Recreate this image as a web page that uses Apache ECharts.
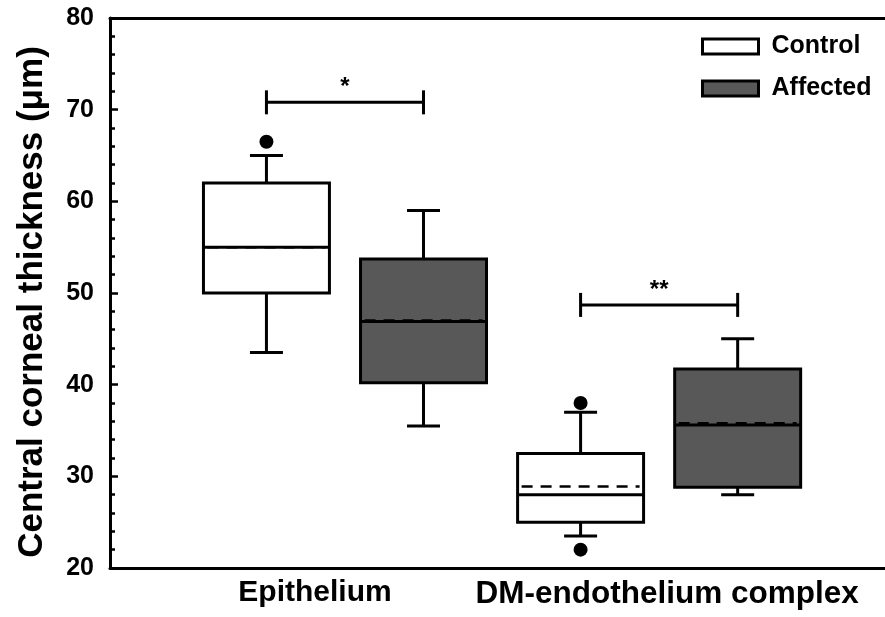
<!DOCTYPE html>
<html>
<head>
<meta charset="utf-8">
<script src="https://cdn.jsdelivr.net/npm/echarts@6/dist/echarts.min.js"></script>
<style>html,body{margin:0;padding:0;background:#fff;}#c{width:885px;height:617px;}</style>
</head>
<body>
<div id="c"></div>
<script>
// ---- data ----
const categories = ['Epithelium', 'DM-endothelium complex'];
const categoryPos = [1, 2];
const yTicks = [20, 30, 40, 50, 60, 70, 80];
// [min whisker, Q1, median, Q3, max whisker]
const controlBox = [[43.5, 50, 55, 62, 65], [23.5, 25, 28, 32.5, 37]];
const affectedBox = [[35.5, 40.2, 46.9, 53.7, 59], [28, 28.8, 35.6, 41.7, 45]];
const controlMean = [55.0, 28.9];
const affectedMean = [47.0, 35.8];
const controlOutliers = [[66.5], [38, 22]];
const affectedOutliers = [[], []];
const sigLevel = [70.8, 48.7];
const sigLabel = ['*', '**'];

// ---- layout constants ----
const FONT = '"Liberation Sans", Arial, sans-serif';
const groupOffset = 0.25;
const boxW = 0.401;
const capW = 0.105;
const LW = 3;

function buildBoxData(boxes, means, off) {
  return boxes.map((b, i) => [categoryPos[i] + off, b[0], b[1], b[2], b[3], b[4], means[i]]);
}
function buildOutliers(outs, off) {
  const res = [];
  outs.forEach((arr, i) => arr.forEach(v => res.push([categoryPos[i] + off, v])));
  return res;
}

function makeRender(fill) {
  return function (params, api) {
    const x = api.value(0);
    const X = v => api.coord([v, 20])[0];
    const Y = v => api.coord([x, v])[1];
    const cx = X(x), l = X(x - boxW / 2), r = X(x + boxW / 2);
    const cl = X(x - capW / 2), cr = X(x + capW / 2);
    const yMin = Y(api.value(1)), yQ1 = Y(api.value(2)), yMed = Y(api.value(3));
    const yQ3 = Y(api.value(4)), yMax = Y(api.value(5)), yMean = Y(api.value(6));
    const st = { stroke: '#000', lineWidth: LW, fill: null };
    return {
      type: 'group',
      children: [
        { type: 'line', shape: { x1: cx, y1: yQ1, x2: cx, y2: yMin }, style: st },
        { type: 'line', shape: { x1: cx, y1: yQ3, x2: cx, y2: yMax }, style: st },
        { type: 'line', shape: { x1: cl, y1: yMin, x2: cr, y2: yMin }, style: st },
        { type: 'line', shape: { x1: cl, y1: yMax, x2: cr, y2: yMax }, style: st },
        { type: 'rect', shape: { x: l, y: yQ3, width: r - l, height: yQ1 - yQ3 },
          style: { fill: fill, stroke: '#000', lineWidth: LW } },
        { type: 'line', shape: { x1: l, y1: yMed, x2: r, y2: yMed }, style: st },
        { type: 'line', shape: { x1: l + 4, y1: yMean, x2: r - 4, y2: yMean },
          style: { stroke: '#000', lineWidth: 2.5, lineDash: [11, 8], fill: null } }
      ]
    };
  };
}

function renderSig(params, api) {
  const i = params.dataIndex;
  const x = api.value(0);
  const y = api.coord([x, api.value(1)])[1];
  const x1 = api.coord([x - groupOffset, 20])[0];
  const x2 = api.coord([x + groupOffset, 20])[0];
  const st = { stroke: '#000', lineWidth: LW, fill: null };
  return {
    type: 'group',
    children: [
      { type: 'line', shape: { x1: x1, y1: y, x2: x2, y2: y }, style: st },
      { type: 'line', shape: { x1: x1, y1: y - 12, x2: x1, y2: y + 12 }, style: st },
      { type: 'line', shape: { x1: x2, y1: y - 12, x2: x2, y2: y + 12 }, style: st },
      { type: 'text', style: { x: (x1 + x2) / 2, y: y - 3, text: sigLabel[i],
          fill: '#000', font: 'bold 24px ' + FONT, textAlign: 'center', textVerticalAlign: 'bottom' } }
    ]
  };
}

const chart = echarts.init(document.getElementById('c'), null, { renderer: 'canvas' });
const xMin = 0.252, xMax = 2.719;
const option = {
  animation: false,
  backgroundColor: '#fff',
  grid: { left: 110, right: 0, top: 18, bottom: 49, containLabel: false },
  legend: {
    orient: 'vertical', left: 696, top: 29,
    itemWidth: 56, itemHeight: 15, itemGap: 17,
    textStyle: { fontFamily: FONT, fontWeight: 'bold', fontSize: 25, color: '#000', lineHeight: 17, padding: [0, 0, 0, 8] },
    data: [
      { name: 'Control', icon: 'rect', itemStyle: { color: '#fff', borderColor: '#000', borderWidth: 3 } },
      { name: 'Affected', icon: 'rect', itemStyle: { color: '#585858', borderColor: '#000', borderWidth: 3 } }
    ]
  },
  xAxis: [
    {
      type: 'value', min: xMin, max: xMax, position: 'bottom',
      axisLine: { show: true, onZero: false, lineStyle: { color: '#000', width: LW } },
      axisTick: { show: false }, splitLine: { show: false },
      axisLabel: {
        customValues: categoryPos, margin: 10,
        formatter: function (v) {
          const i = categoryPos.indexOf(v);
          if (i < 0) return '';
          return i === 0 ? '{a|' + categories[0] + '}' : '{b|' + categories[1] + '}';
        },
        rich: {
          a: { fontFamily: FONT, fontWeight: 'bold', fontSize: 30, color: '#000', padding: [0, 60, 0, 0] },
          b: { fontFamily: FONT, fontWeight: 'bold', fontSize: 31.5, color: '#000', padding: [0, 0, 0, 16] }
        }
      }
    },
    {
      type: 'value', min: xMin, max: xMax, position: 'top',
      axisLine: { show: true, onZero: false, lineStyle: { color: '#000', width: LW } },
      axisTick: { show: false }, axisLabel: { show: false }, splitLine: { show: false }
    }
  ],
  yAxis: {
    type: 'value', min: 20, max: 80, interval: 10,
    name: 'Central corneal thickness (μm)', nameLocation: 'middle', nameGap: 60,
    nameTextStyle: { fontFamily: FONT, fontWeight: 'bold', fontSize: 35, color: '#000', padding: [0, 18, 0, 0] },
    axisLine: { show: true, lineStyle: { color: '#000', width: LW } },
    axisTick: { show: true, inside: true, length: 8, lineStyle: { color: '#000', width: 2.5 } },
    minorTick: { show: true, splitNumber: 5, length: 5, lineStyle: { color: '#000', width: 2.5 } },
    splitLine: { show: false },
    axisLabel: {
      margin: 16, fontFamily: FONT, fontWeight: 'bold', fontSize: 25, color: '#000',
      formatter: v => (yTicks.indexOf(v) >= 0 ? String(v) : '')
    }
  },
  series: [
    { name: 'Control', type: 'custom', renderItem: makeRender('#fff'),
      itemStyle: { color: '#fff', borderColor: '#000' },
      data: buildBoxData(controlBox, controlMean, -groupOffset), z: 2 },
    { name: 'Affected', type: 'custom', renderItem: makeRender('#585858'),
      itemStyle: { color: '#585858', borderColor: '#000' },
      data: buildBoxData(affectedBox, affectedMean, groupOffset), z: 2 },
    { name: 'Control outliers', type: 'scatter', symbol: 'circle', symbolSize: 14,
      itemStyle: { color: '#000', opacity: 1 }, data: buildOutliers(controlOutliers, -groupOffset), z: 3 },
    { name: 'Affected outliers', type: 'scatter', symbol: 'circle', symbolSize: 14,
      itemStyle: { color: '#000', opacity: 1 }, data: buildOutliers(affectedOutliers, groupOffset), z: 3 },
    { name: 'Significance', type: 'custom', renderItem: renderSig,
      data: categoryPos.map((p, i) => [p, sigLevel[i]]), z: 3 }
  ]
};
chart.setOption(option);
</script>
</body>
</html>
